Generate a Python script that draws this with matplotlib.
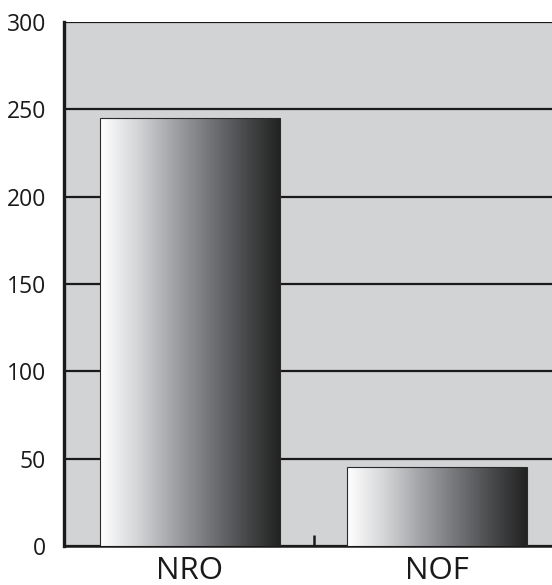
import numpy as np
import matplotlib
matplotlib.use("Agg")
import matplotlib.pyplot as plt
from matplotlib.colors import LinearSegmentedColormap

# DATA
categories = ["NRO", "NOF"]
values = [245, 45]
y_ticks = [0, 50, 100, 150, 200, 250, 300]

plt.rcParams['font.family'] = ['Open Sans', 'DejaVu Sans']

fig = plt.figure(figsize=(5.52, 5.85), dpi=100)
ax = fig.add_axes([64 / 552, 39 / 585, 499 / 552, 524 / 585])
ax.set_facecolor("#d2d3d5")

x = np.arange(len(categories))
bar_w = 0.725

# invisible bars for geometry, gradient fill drawn on top
bars = ax.bar(x, values, width=bar_w, color="none", edgecolor="#2a2a2a",
              linewidth=0.8, zorder=4)

grad_cmap = LinearSegmentedColormap.from_list(
    "bargrad", ["#ffffff", "#d6d7d9", "#a4a5a8", "#76777a", "#4a4b4d", "#222222"])
gradient = np.linspace(0, 1, 256).reshape(1, -1)
for b in bars:
    x0, w, h = b.get_x(), b.get_width(), b.get_height()
    ax.imshow(gradient, cmap=grad_cmap, aspect="auto",
              extent=[x0, x0 + w, 0, h], zorder=3, interpolation="bilinear")

ax.set_xlim(-0.51, 1.51)
ax.set_ylim(0, 300)
ax.set_yticks(y_ticks)
ax.set_yticklabels([str(t) for t in y_ticks], fontsize=16.5, color="#1a1a1a")
ax.set_xticks(x)
ax.set_xticklabels(categories, fontsize=22.5, color="#1a1a1a")
ax.set_xticks([0.5], minor=True)

ax.tick_params(axis="y", length=0, pad=13)
ax.tick_params(axis="x", which="major", length=0, pad=7)
ax.tick_params(axis="x", which="minor", direction="in", length=8, width=1.8,
               color="#1a1a1a")

ax.yaxis.grid(True, color="#1a1a1a", linewidth=1.6, zorder=1)
ax.set_axisbelow(True)

for side in ["top", "right"]:
    ax.spines[side].set_visible(False)
ax.spines["left"].set_linewidth(2.4)
ax.spines["left"].set_color("#1a1a1a")
ax.spines["bottom"].set_linewidth(1.8)
ax.spines["bottom"].set_color("#1a1a1a")

fig.savefig("out.png", dpi=100)
